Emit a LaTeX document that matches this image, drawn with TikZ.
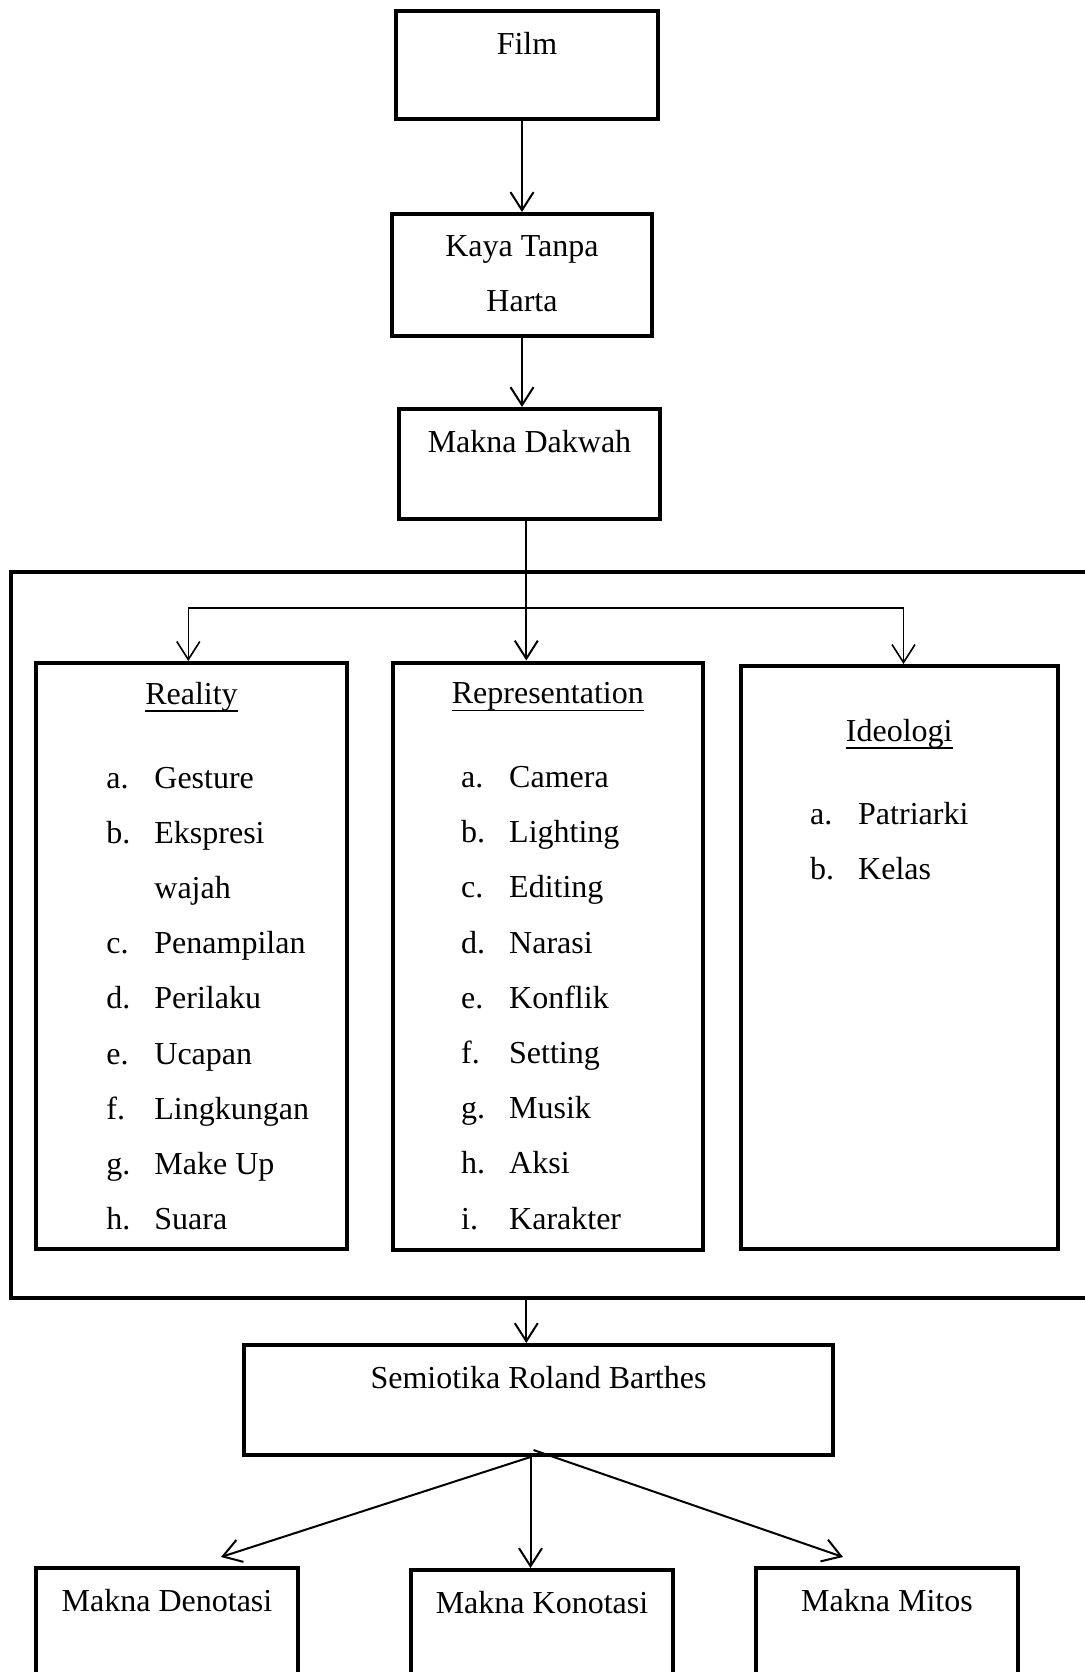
\documentclass[tikz,border=0pt]{standalone}
\usepackage{fontspec}
\setmainfont{Liberation Serif}
\usepackage{tikz}
\usetikzlibrary{arrows.meta,positioning}
\newcommand{\itemlist}[1]{\begin{tabular}[t]{@{}p{24pt}@{}l@{}}#1\end{tabular}}
\newcommand{\twolines}[1]{\begin{tabular}[t]{@{}c@{}}#1\end{tabular}}
\newcommand{\undl}[1]{\setbox0\hbox{#1}\rlap{\copy0}\rule[-3.8pt]{\wd0}{0.8pt}}
\tikzset{
    bx/.style={ % plain thick box
        rectangle,
        fill=white,
        draw=black,
        line width=2pt,
        inner sep=0pt
        },
    ttl/.style={ % box text, placed on its baseline
        anchor=base,
        inner sep=0pt,
        font=\fontsize{16}{27.6}\selectfont
        },
    lst/.style={ % lettered list
        ttl,
        anchor=base west
        },
    arrout/.style={
        -{Straight Barb[length=9pt,width=11.5pt]},
        line width=1pt
        },
    arrb/.style={
        {Straight Barb[length=9pt,width=11.5pt]}-{Straight Barb[length=9pt,width=11.5pt]},
        line width=0.8pt
        }
}
\begin{document}
\begin{tikzpicture}[x=0.5pt,y=-0.5pt]
		\useasboundingbox (0,0) rectangle (1085,1672);
		\clip (0,0) rectangle (1085,1672);
		
		%%%%% node film
		\node[bx,minimum width=131pt,minimum height=54pt] (film) at (527,65) {};
		\node[ttl] (filmt) at ([yshift=-22.5pt]film.north) {Film};
		
		%%%%% node kaya
		\node[bx,minimum width=130pt,minimum height=61pt,below=45.5pt of film,xshift=-2.5pt] (kaya) {};
		\node[ttl] (kayat) at ([yshift=-22pt]kaya.north) {\twolines{Kaya Tanpa\\Harta}};
		
		%%%%% node dakwah
		\node[bx,minimum width=130.5pt,minimum height=55pt,below=34.5pt of kaya,xshift=3.75pt] (dakwah) {};
		\node[ttl] (dakwaht) at ([yshift=-22.5pt]dakwah.north) {Makna Dakwah};
		\coordinate (drop) at ([xshift=-1.6pt]dakwah.south);
		
		%%%%% edges e1, e2
		\draw[arrout] (film.south -| kaya.north) -- (kaya.north);
		\draw[arrout] (kaya.south) -- (kaya.south |- dakwah.north);
		
		%%%%% frame round the three columns
		\node[bx,minimum width=544.5pt,minimum height=363pt] (frame) at (555.5,935) {};
		
		%%%%% node real
		\node[bx,minimum width=155.5pt,minimum height=293pt] (real) at (191.5,956) {};
		\node[ttl] (realt) at ([yshift=-21.5pt]real.north) {\undl{Reality}};
		\node[lst] (reall) at ([xshift=36pt,yshift=-63.5pt]real.north west) {\itemlist{
				a. & Gesture\\
				b. & Ekspresi\\
				   & wajah\\
				c. & Penampilan\\
				d. & Perilaku\\
				e. & Ucapan\\
				f. & Lingkungan\\
				g. & Make Up\\
				h. & Suara}};
		
		%%%%% node rep
		\node[bx,minimum width=155pt,minimum height=293.5pt,right=20.9pt of real] (rep) {};
		\node[ttl] (rept) at ([yshift=-21.5pt]rep.north) {\undl{Representation}};
		\node[lst] (repl) at ([xshift=35pt,yshift=-63.5pt]rep.north west) {\itemlist{
				a. & Camera\\
				b. & Lighting\\
				c. & Editing\\
				d. & Narasi\\
				e. & Konflik\\
				f. & Setting\\
				g. & Musik\\
				h. & Aksi\\
				i. & Karakter}};
		
		%%%%% node ideo
		\node[bx,minimum width=158.5pt,minimum height=291.5pt,right=17pt of rep,yshift=-0.75pt] (ideo) {};
		\node[ttl] (ideot) at ([yshift=-38.5pt]ideo.north) {\undl{Ideologi}};
		\node[lst] (ideol) at ([xshift=35.5pt,yshift=-80pt]ideo.north west) {\itemlist{
				a. & Patriarki\\
				b. & Kelas}};
		
		%%%%% edges into the columns
		\draw[arrout] (drop) -- (drop |- rep.north);
		\draw[arrb] ([xshift=-1.6pt]real.north) -- ++(0,26.5pt) -| ([xshift=2.1pt]ideo.north);
		
		%%%%% node semio
		\node[bx,minimum width=294.5pt,minimum height=55pt] (semio) at (538.5,1400) {};
		\node[ttl] (semiot) at ([yshift=-22.5pt]semio.north) {Semiotika Roland Barthes};
		\draw[arrout] (frame.south -| drop) -- (drop |- semio.north);
		
		%%%%% nodes deno, kono, mitos
		\node[bx,minimum width=131pt,minimum height=75pt,anchor=north] (deno) at (167,1566) {};
		\node[ttl] (denot) at ([yshift=-22.5pt]deno.north) {Makna Denotasi};
		\node[bx,minimum width=131pt,minimum height=75pt,anchor=north] (kono) at (542,1568) {};
		\node[ttl] (konot) at ([yshift=-22.5pt]kono.north) {Makna Konotasi};
		\node[bx,minimum width=131pt,minimum height=75pt,anchor=north] (mitos) at (887,1566) {};
		\node[ttl] (mitost) at ([yshift=-22.5pt]mitos.north) {Makna Mitos};
		
		%%%%% edges out of semio
		\coordinate (fan) at ([xshift=-4pt]semio.south);
		\draw[arrout] (fan) -- ([xshift=27pt,yshift=4.5pt]deno.north);
		\draw[arrout] (fan) -- (fan |- kono.north);
		\draw[arrout] ([xshift=1.5pt,yshift=3.5pt]fan) -- ([xshift=-22pt,yshift=4.5pt]mitos.north);
\end{tikzpicture}
\end{document}
